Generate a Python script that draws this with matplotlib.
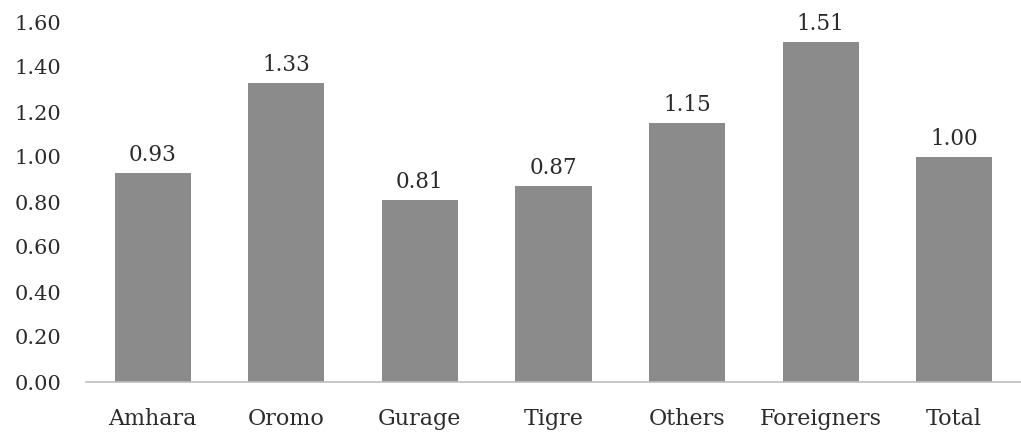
import matplotlib
matplotlib.use("Agg")
import matplotlib.pyplot as plt

categories = ["Amhara", "Oromo", "Gurage", "Tigre", "Others", "Foreigners", "Total"]
values = [0.93, 1.33, 0.81, 0.87, 1.15, 1.51, 1.00]
yticks = [0.0, 0.2, 0.4, 0.6, 0.8, 1.0, 1.2, 1.4, 1.6]

plt.rcParams['font.family'] = ['DejaVu Serif']
text_color = "#2b2b2b"

fig = plt.figure(figsize=(10.21, 4.33), dpi=100)
ax = fig.add_axes([86/1021, 1-382/433, 1-86/1021, (382-22)/433])

x = list(range(len(categories)))
bars = ax.bar(x, values, width=0.57, color="#8b8b8b", zorder=2)
ax.set_xlim(-0.5, len(categories) - 0.5)
ax.set_ylim(0, 1.6)
ax.set_yticks(yticks)
ax.set_yticklabels([f"{v:.2f}" for v in yticks], fontsize=15, color=text_color)
ax.set_xticks(x)
ax.set_xticklabels(categories, fontsize=16, color=text_color)
ax.tick_params(axis='y', length=0, pad=18)
ax.tick_params(axis='x', length=0, pad=19)

for s in ["top", "right", "left"]:
    ax.spines[s].set_visible(False)
ax.spines["bottom"].set_color("#bdbdbd")
ax.spines["bottom"].set_linewidth(1.2)

for xi, v in zip(x, values):
    ax.annotate(f"{v:.2f}", (xi, v), xytext=(0, 5), textcoords="offset points",
                ha="center", va="bottom", fontsize=15.5, color=text_color,
                annotation_clip=False)

fig.savefig("out.png", dpi=100)
